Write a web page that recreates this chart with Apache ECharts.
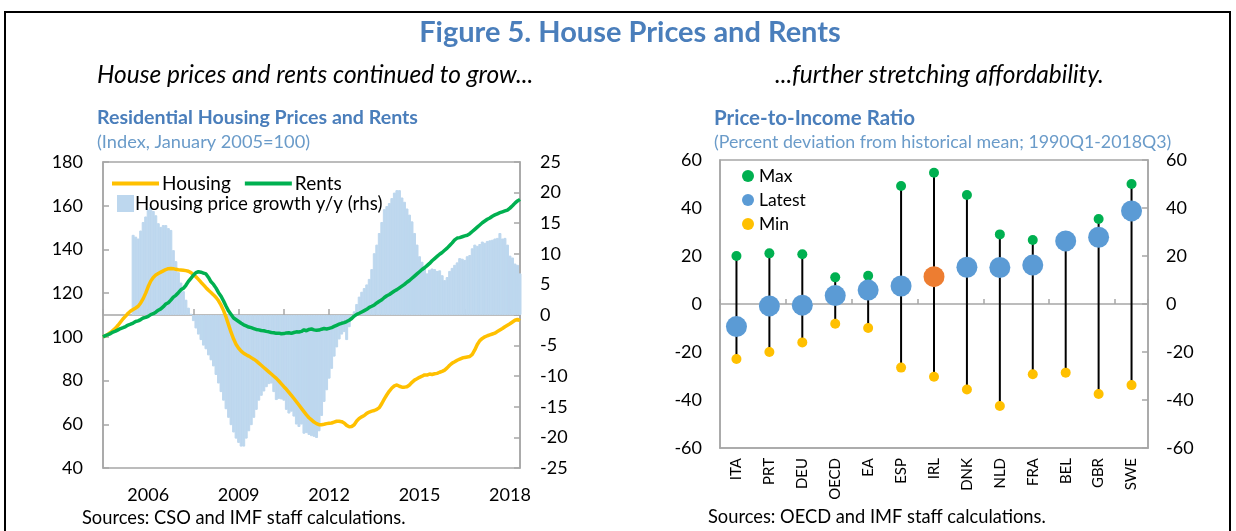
<!DOCTYPE html>
<html>
<head>
<meta charset="utf-8">
<script src="https://cdn.jsdelivr.net/npm/echarts@6/dist/echarts.min.js"></script>
<style>
html,body{margin:0;padding:0;background:#fff;}
#chart{width:1236px;height:531px;}
</style>
</head>
<body>
<div id="chart"></div>
<script>
// ---------- Left panel data (monthly, Jan 2005 - Nov 2018) ----------
const startYear = 2005;
const monthCount = 167;
const months = [];
for (let k = 0; k < monthCount; k++) {
  const y = startYear + Math.floor(k / 12);
  const m = (k % 12) + 1;
  months.push(y + '-' + (m < 10 ? '0' + m : m));
}

const housing = [
  100, 100.5, 101.2, 102, 103, 104, 105.3, 106.8, 108.3, 109.5, 110.8, 111.8,
  112.5, 113.2, 114, 115.5, 117.5, 120, 123, 125.5, 127.2, 128.3, 129, 129.6,
  130.2, 130.8, 131.2, 131.3, 131.2, 130.9, 130.7, 130.6, 130.5, 130.3, 130, 129.4,
  128.5, 127.5, 126.3, 125, 123.8, 122.5, 121.3, 120.3, 119.2, 118, 116.5, 114.5,
  112, 109, 105.5, 102, 99, 96.5, 94.8, 93.5, 92.5, 91.8, 91.2, 90.5,
  89.8, 89, 88, 87, 86, 85, 84, 83, 82, 81, 79.8, 78.5,
  77.2, 76, 74.6, 73.2, 71.8, 70.3, 68.8, 67.3, 65.8, 64.3, 63, 62,
  61, 60.3, 59.8, 59.8, 60, 60.3, 60.5, 60.6, 61, 61.4, 61.4, 61.2,
  60.6, 59.5, 58.9, 59, 59.8, 61.5, 62.7, 63.4, 64, 65, 65.6, 66,
  66.3, 66.8, 67.6, 69.5, 71.6, 73.5, 75.2, 76.6, 77.6, 78, 77.4, 77,
  77, 77.2, 78, 79.2, 80.2, 80.8, 81.5, 82, 82.6, 82.5, 83, 82.8,
  83.1, 83.3, 83.8, 84.2, 84.8, 85.8, 87, 88, 88.6, 89.3, 89.8, 90.3,
  90.6, 90.8, 91, 92, 94, 96.5, 98.3, 99.3, 100, 100.5, 100.9, 101.3,
  101.7, 102.4, 103.1, 103.8, 104.6, 105.3, 106, 106.8, 107.6, 108, 107.4
];

const rents = [
  100, 100.6, 101, 101.5, 102.2, 102.6, 103.2, 103.8, 104.2, 104.7, 105.4, 105.8,
  106.3, 107, 107.3, 107.9, 108.6, 108.9, 109.4, 110.2, 110.6, 111.3, 112.2, 112.8,
  113.8, 115, 115.6, 116.8, 118.2, 119, 120.2, 121.5, 122.2, 123.6, 125.4, 126.8,
  128.2, 129.4, 129.8, 129.6, 129.2, 128.8, 127.2, 125.2, 124, 122.3, 120.2, 118.6,
  116.4, 114, 111.8, 110.2, 108.6, 107.8, 107, 106.2, 105.5, 105, 104.5, 104.2,
  103.8, 103.4, 103.2, 102.9, 102.8, 102.5, 102.3, 102, 101.9, 101.6, 101.7, 101.4,
  101.5, 101.8, 101.9, 101.6, 102, 102.3, 102.2, 102.5, 103.2, 102.8, 103.4, 103.6,
  103.2, 103, 103.1, 103.5, 103.8, 103.6, 103.9, 104.2, 104.8, 105.3, 105.8, 106.2,
  106.5, 107, 107.6, 108.4, 109.5, 110.3, 110.8, 111.4, 112, 112.6, 113.5, 114,
  114.6, 115.5, 116.3, 117, 118, 118.8, 119.4, 120.2, 121, 121.6, 122.4, 123.2,
  124, 125, 125.8, 126.8, 127.8, 128.8, 129.8, 130.8, 131.6, 132.6, 133.6, 134.8,
  135.8, 136.8, 137.8, 138.6, 139.6, 140.6, 141.8, 143, 144.4, 145.2, 145.4, 145.8,
  146.2, 146.5, 147.2, 148.2, 149.2, 150.2, 151.2, 152.2, 153, 153.8, 154.4, 155.2,
  155.8, 156.3, 156.8, 157.2, 157.6, 158, 158.9, 160, 161.2, 162.2, 162.9
];

const growth = [
  null, null, null, null, null, null, null, null, null, null, null, null,
  13.1, 12.8, 12.5, 13.8, 15.2, 16.1, 17.2, 17.7, 17.0, 16.3, 15.0, 14.4,
  14.7, 14.7, 14.2, 13.9, 10.6, 8.8, 7.0, 5.3, 3.9, 2.5, 1.2, 0.2,
  -1.0, -2.2, -3.2, -4.1, -5.0, -5.6, -6.6, -7.4, -8.4, -9.8, -11.2, -12.6,
  -14.0, -15.4, -16.8, -18.0, -19.2, -20.2, -20.9, -21.5, -21.5, -20.2, -19.0, -18.0,
  -16.8, -15.5, -14.0, -13.2, -12.5, -11.8, -11.3, -11.2, -12.6, -13.9, -13.7, -13.8,
  -14.0, -15.5, -16.1, -15.8, -16.6, -17.9, -18.3, -17.9, -19.4, -19.3, -19.6, -19.8,
  -19.9, -20.1, -19.0, -16.5, -14.2, -12.3, -10.4, -8.8, -6.8, -5.3, -4.0, -3.2,
  -2.8, -4.1, -2.0, -0.8, 0.6, 1.8, 3.0, 3.8, 4.4, 5.0, 5.9, 7.5,
  10.1, 11.5, 13.4, 15.2, 17.3, 17.8, 18.3, 19.1, 20.0, 20.4, 20.4, 19.2,
  18.5, 17.4, 16.4, 15.3, 13.4, 11.5, 9.6, 8.7, 7.9, 6.8, 7.4, 7.6,
  7.5, 7.2, 7.3, 6.5, 5.7, 6.2, 7.2, 7.7, 8.2, 8.6, 9.3, 9.2,
  9.0, 9.6, 9.8, 10.9, 11.5, 11.3, 11.6, 12.0, 11.8, 12.1, 12.2, 12.3,
  12.5, 12.6, 13.4, 12.5, 12.6, 11.5, 9.7, 9.4, 8.4, 8.2, 6.8
];

// ---------- Right panel data ----------
const countries = ['ITA','PRT','DEU','OECD','EA','ESP','IRL','DNK','NLD','FRA','BEL','GBR','SWE'];
const maxV    = [20, 21.1, 20.7, 11.1, 11.8, 49.2, 54.7, 45.4, 29, 26.7, 26, 35.4, 50];
const latestV = [-9.4, -0.8, -0.5, 3.5, 5.8, 7.5, 11.4, 15.3, 15.2, 16.2, 26.3, 27.8, 38.8];
const minV    = [-22.9, -20, -16, -8.2, -10, -26.5, -30.3, -35.6, -42.5, -29.3, -28.6, -37.5, -33.8];
const highlight = 'IRL';

// ---------- Styles ----------
const FONT = 'Lato';
const GRAY = '#A6A6A6';
const BLUE_T = '#4A7EBB';
const BLUE_S = '#6A9BC9';
const BAR = '#BDD7EE';

const chart = echarts.init(document.getElementById('chart'), null, {renderer: 'canvas'});

function txt(x, y, text, font, fill, align) {
  return {type: 'text', x: x, y: y, silent: true,
    style: {text: text, font: font, fill: fill, textAlign: align || 'left', textVerticalAlign: 'middle'}};
}

const option = {
  animation: false,
  backgroundColor: '#fff',
  textStyle: {fontFamily: FONT},
  graphic: [
    {type: 'polyline', silent: true, shape: {points: [[5, 531], [5, 12], [1230, 12], [1230, 531]]},
      style: {stroke: '#000', lineWidth: 2, fill: null}},
    txt(630, 33, 'Figure 5. House Prices and Rents', 'bold 29px ' + FONT, BLUE_T, 'center'),
    txt(97, 75, 'House prices and rents continued to grow...', 'italic 24.5px ' + FONT, '#000'),
    txt(775, 75, '...further stretching affordability.', 'italic 24.5px ' + FONT, '#000'),
    txt(97, 118, 'Residential Housing Prices and Rents', 'bold 19.6px ' + FONT, BLUE_T),
    txt(97, 142, '(Index, January 2005=100)', '18.2px ' + FONT, BLUE_S),
    txt(714, 118, 'Price-to-Income Ratio', 'bold 20.5px ' + FONT, BLUE_T),
    txt(714, 142, '(Percent deviation from historical mean; 1990Q1-2018Q3)', '17.8px ' + FONT, BLUE_S),
    txt(82, 518, 'Sources: CSO and IMF staff calculations.', '18.3px ' + FONT, '#000'),
    txt(708, 517, 'Sources: OECD and IMF staff calculations.', '18.3px ' + FONT, '#000')
  ],
  legend: [
    {data: ['Housing', 'Rents'], left: 107, top: 169, orient: 'horizontal',
      icon: 'rect', itemWidth: 47, itemHeight: 4, itemGap: 14,
      textStyle: {fontSize: 19, color: '#000', fontFamily: FONT, padding: [0, 0, 0, -2]}},
    {data: ['Housing price growth y/y (rhs)'], left: 112, top: 189,
      icon: 'rect', itemWidth: 15, itemHeight: 15,
      textStyle: {fontSize: 18.7, color: '#000', fontFamily: FONT, padding: [0, 0, 0, -3]}},
    {data: ['Max', 'Latest', 'Min'], left: 737, top: 162, orient: 'vertical',
      icon: 'circle', itemWidth: 12, itemHeight: 12, itemGap: 6,
      textStyle: {fontSize: 17.5, color: '#000', fontFamily: FONT}}
  ],
  grid: [
    {left: 103, right: 716, top: 162, bottom: 63, show: true, borderColor: GRAY, borderWidth: 1.5, containLabel: false},
    {left: 720, right: 88, top: 160, bottom: 83, show: true, borderColor: GRAY, borderWidth: 1.5, containLabel: false}
  ],
  xAxis: [
    {type: 'category', gridIndex: 0, data: months, boundaryGap: false,
      axisLine: {lineStyle: {color: GRAY, width: 1.5}},
      axisTick: {inside: true, length: 6, interval: function (i) { return i % 18 === 0; }, lineStyle: {color: GRAY, width: 1.5}},
      axisLabel: {interval: function (i) { return i % 36 === 18; }, formatter: function (v) { return v.slice(0, 4); },
        margin: 18, fontSize: 18, color: '#000', fontFamily: FONT},
      splitLine: {show: false}},
    {type: 'category', gridIndex: 1, data: countries, position: 'bottom',
      axisLine: {onZero: false, show: true, lineStyle: {color: GRAY, width: 1.5}},
      axisTick: {show: false},
      axisLabel: {rotate: 90, margin: 10, fontSize: 15, color: '#000', fontFamily: FONT, interval: 0},
      splitLine: {show: false}},
    {type: 'category', gridIndex: 1, data: countries, position: 'bottom',
      axisLine: {onZero: true, show: true, lineStyle: {color: GRAY, width: 1.5}},
      axisTick: {show: true, inside: true, length: 5, lineStyle: {color: GRAY, width: 1.5}},
      axisLabel: {show: false},
      splitLine: {show: false}}
  ],
  yAxis: [
    {type: 'value', gridIndex: 0, min: 40, max: 180, interval: 20, position: 'left',
      axisLine: {show: true, lineStyle: {color: GRAY, width: 1.5}},
      axisTick: {show: true, inside: true, length: 6, lineStyle: {color: GRAY, width: 1.5}},
      axisLabel: {margin: 20, fontSize: 18, color: '#000', fontFamily: FONT},
      splitLine: {show: false}},
    {type: 'value', gridIndex: 0, min: -25, max: 25, interval: 5, position: 'right',
      axisLine: {show: true, lineStyle: {color: GRAY, width: 1.5}},
      axisTick: {show: true, inside: true, length: 6, lineStyle: {color: GRAY, width: 1.5}},
      axisLabel: {margin: 20, fontSize: 18, color: '#000', fontFamily: FONT},
      splitLine: {show: false}},
    {type: 'value', gridIndex: 1, min: -60, max: 60, interval: 20, position: 'left',
      axisLine: {show: true, lineStyle: {color: GRAY, width: 1.5}},
      axisTick: {show: false},
      axisLabel: {margin: 18, fontSize: 18, color: '#000', fontFamily: FONT},
      splitLine: {show: false}},
    {type: 'value', gridIndex: 1, min: -60, max: 60, interval: 20, position: 'right',
      axisLine: {show: true, lineStyle: {color: GRAY, width: 1.5}},
      axisTick: {show: true, inside: true, length: 6, lineStyle: {color: GRAY, width: 1.5}},
      axisLabel: {margin: 18, fontSize: 18, color: '#000', fontFamily: FONT},
      splitLine: {show: false}}
  ],
  series: [
    {name: 'Housing price growth y/y (rhs)', type: 'bar', xAxisIndex: 0, yAxisIndex: 1,
      data: growth, barWidth: 3, large: false,
      itemStyle: {color: BAR, borderColor: BAR, borderWidth: 1}, z: 1},
    {name: 'Housing', type: 'line', xAxisIndex: 0, yAxisIndex: 0, data: housing,
      symbol: 'none', lineStyle: {color: '#FFC000', width: 3.5}, itemStyle: {color: '#FFC000'}, z: 3},
    {name: 'Rents', type: 'line', xAxisIndex: 0, yAxisIndex: 0, data: rents,
      symbol: 'none', lineStyle: {color: '#00B050', width: 3.5}, itemStyle: {color: '#00B050'}, z: 4},
    {name: 'range', type: 'custom', xAxisIndex: 1, yAxisIndex: 2,
      data: countries.map(function (c, i) { return [i, minV[i], maxV[i]]; }),
      encode: {x: 0, y: [1, 2]},
      renderItem: function (params, api) {
        const i = api.value(0);
        const p1 = api.coord([i, api.value(1)]);
        const p2 = api.coord([i, api.value(2)]);
        return {type: 'line', shape: {x1: p1[0], y1: p1[1], x2: p2[0], y2: p2[1]},
          style: {stroke: '#000', lineWidth: 2}};
      }, z: 2},
    {name: 'Max', type: 'scatter', xAxisIndex: 1, yAxisIndex: 2, data: maxV,
      symbol: 'circle', symbolSize: 10, itemStyle: {color: '#00B050', opacity: 1}, z: 3},
    {name: 'Min', type: 'scatter', xAxisIndex: 1, yAxisIndex: 2, data: minV,
      symbol: 'circle', symbolSize: 10, itemStyle: {color: '#FFC000', opacity: 1}, z: 3},
    {name: 'Latest', type: 'scatter', xAxisIndex: 1, yAxisIndex: 2,
      data: latestV.map(function (v, i) {
        return countries[i] === highlight ? {value: v, itemStyle: {color: '#ED7D31'}} : v;
      }),
      symbol: 'circle', symbolSize: 21, itemStyle: {color: '#5B9BD5', opacity: 1}, z: 4}
  ]
};
chart.setOption(option);
</script>
</body>
</html>
